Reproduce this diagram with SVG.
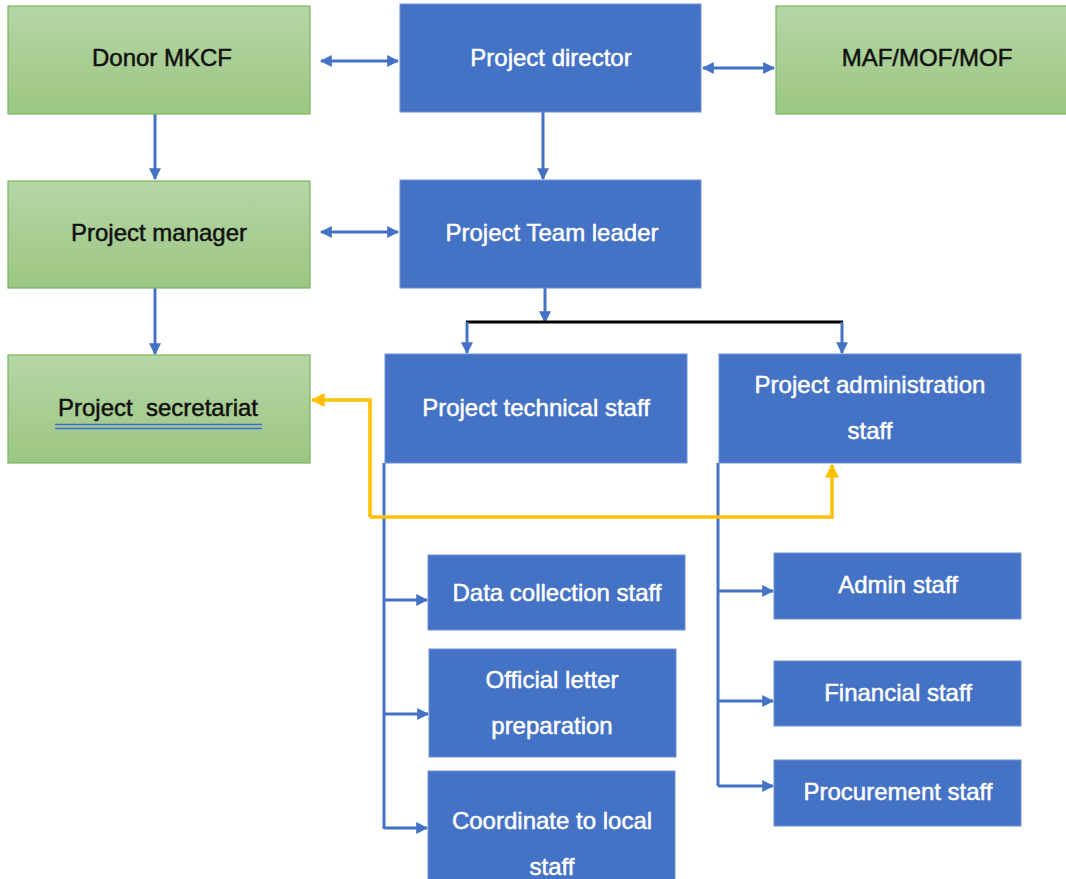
<svg xmlns="http://www.w3.org/2000/svg" width="1066" height="879" viewBox="0 0 1066 879">
<defs>
<linearGradient id="g" x1="0" y1="0" x2="0" y2="1">
<stop offset="0" stop-color="#b5d6a6"/>
<stop offset="1" stop-color="#9cc682"/>
</linearGradient>
<marker id="ab" viewBox="0 0 10 10" refX="9" refY="5" markerWidth="4" markerHeight="4" orient="auto-start-reverse" markerUnits="strokeWidth">
<path d="M0,0 L10,5 L0,10 z" fill="#4472c4"/>
</marker>
<marker id="ay" viewBox="0 0 10 10" refX="9" refY="5" markerWidth="4" markerHeight="4" orient="auto-start-reverse" markerUnits="strokeWidth">
<path d="M0,0 L10,5 L0,10 z" fill="#ffc000"/>
</marker>
</defs>
<style>
.gb{fill:url(#g);stroke:#7ab55c;stroke-width:1.2}
.bb{fill:#4472c4;stroke:#6f91cf;stroke-width:1}
.tk{font-family:"Liberation Sans",Arial,sans-serif;font-size:24px;fill:#111;stroke:#111;stroke-width:0.5;text-anchor:middle}
.tw{font-family:"Liberation Sans",Arial,sans-serif;font-size:24px;fill:#fff;stroke:#fff;stroke-width:0.5;text-anchor:middle}
.c{fill:none;stroke:#4472c4;stroke-width:3}
.ca{fill:none;stroke:#4472c4;stroke-width:3;marker-end:url(#ab)}
.cd{fill:none;stroke:#4472c4;stroke-width:3;marker-start:url(#ab);marker-end:url(#ab)}
.y{fill:none;stroke:#ffc000;stroke-width:3.5}
</style>
<rect width="1066" height="879" fill="#fff"/>
<g id="connectors">
<line class="cd" x1="321" y1="61" x2="398" y2="61"/>
<line class="cd" x1="703" y1="68" x2="774" y2="68"/>
<line class="ca" x1="155" y1="114" x2="155" y2="179"/>
<line class="ca" x1="543" y1="112" x2="543" y2="179"/>
<line class="cd" x1="321" y1="232" x2="398" y2="232"/>
<line class="ca" x1="155" y1="288" x2="155" y2="354"/>
<line class="ca" x1="545" y1="288" x2="545" y2="322"/>
<line x1="466" y1="322" x2="843" y2="322" stroke="#000" stroke-width="3"/>
<line class="ca" x1="467" y1="322" x2="467" y2="353"/>
<line class="ca" x1="842" y1="322" x2="842" y2="353"/>
<path class="c" d="M384,463 V829"/>
<line class="ca" x1="384" y1="600" x2="427" y2="600"/>
<line class="ca" x1="384" y1="714" x2="428" y2="714"/>
<line class="ca" x1="384" y1="828" x2="427" y2="828"/>
<path class="c" d="M718,463 V786"/>
<line class="ca" x1="718" y1="591" x2="773" y2="591"/>
<line class="ca" x1="718" y1="701" x2="773" y2="701"/>
<line class="ca" x1="718" y1="786" x2="773" y2="786"/>
<path class="y" d="M370,517 V400 H312" marker-end="url(#ay)"/>
<path class="y" d="M370,517 H832 V465" marker-end="url(#ay)"/>
</g>
<g id="donor">
<rect class="gb" x="8" y="6" width="302" height="108"/>
<text class="tk" x="162" y="66">Donor MKCF</text>
</g>
<g id="director">
<rect class="bb" x="400" y="4" width="301" height="108"/>
<text class="tw" x="551" y="66">Project director</text>
</g>
<g id="maf">
<rect class="gb" x="776" y="6" width="292" height="108"/>
<text class="tk" x="927" y="66">MAF/MOF/MOF</text>
</g>
<g id="manager">
<rect class="gb" x="8" y="181" width="302" height="107"/>
<text class="tk" x="159" y="241">Project manager</text>
</g>
<g id="teamleader">
<rect class="bb" x="400" y="180" width="301" height="108"/>
<text class="tw" x="552" y="241">Project Team leader</text>
</g>
<g id="secretariat">
<rect class="gb" x="8" y="355" width="302" height="108"/>
<text class="tk" x="158" y="416" xml:space="preserve">Project  secretariat</text>
<line x1="55" y1="424.5" x2="262" y2="424.5" stroke="#3c6fd6" stroke-width="1.3"/>
<line x1="55" y1="428.5" x2="262" y2="428.5" stroke="#3c6fd6" stroke-width="1.3"/>
</g>
<g id="technical">
<rect class="bb" x="385" y="354" width="302" height="109"/>
<text class="tw" x="536" y="416">Project technical staff</text>
</g>
<g id="administration">
<rect class="bb" x="719" y="354" width="302" height="109"/>
<text class="tw" x="870" y="393">Project administration</text>
<text class="tw" x="870" y="439">staff</text>
</g>
<g id="datacollection">
<rect class="bb" x="428" y="555" width="257" height="75"/>
<text class="tw" x="557" y="601">Data collection staff</text>
</g>
<g id="officialletter">
<rect class="bb" x="429" y="649" width="247" height="108"/>
<text class="tw" x="552" y="688">Official letter</text>
<text class="tw" x="552" y="734">preparation</text>
</g>
<g id="coordinate">
<rect class="bb" x="428" y="771" width="247" height="112"/>
<text class="tw" x="552" y="829">Coordinate to local</text>
<text class="tw" x="552" y="875">staff</text>
</g>
<g id="adminstaff">
<rect class="bb" x="774" y="553" width="247" height="66"/>
<text class="tw" x="898" y="593">Admin staff</text>
</g>
<g id="financial">
<rect class="bb" x="774" y="661" width="247" height="65"/>
<text class="tw" x="898" y="701">Financial staff</text>
</g>
<g id="procurement">
<rect class="bb" x="774" y="760" width="247" height="66"/>
<text class="tw" x="898" y="800">Procurement staff</text>
</g>
</svg>
